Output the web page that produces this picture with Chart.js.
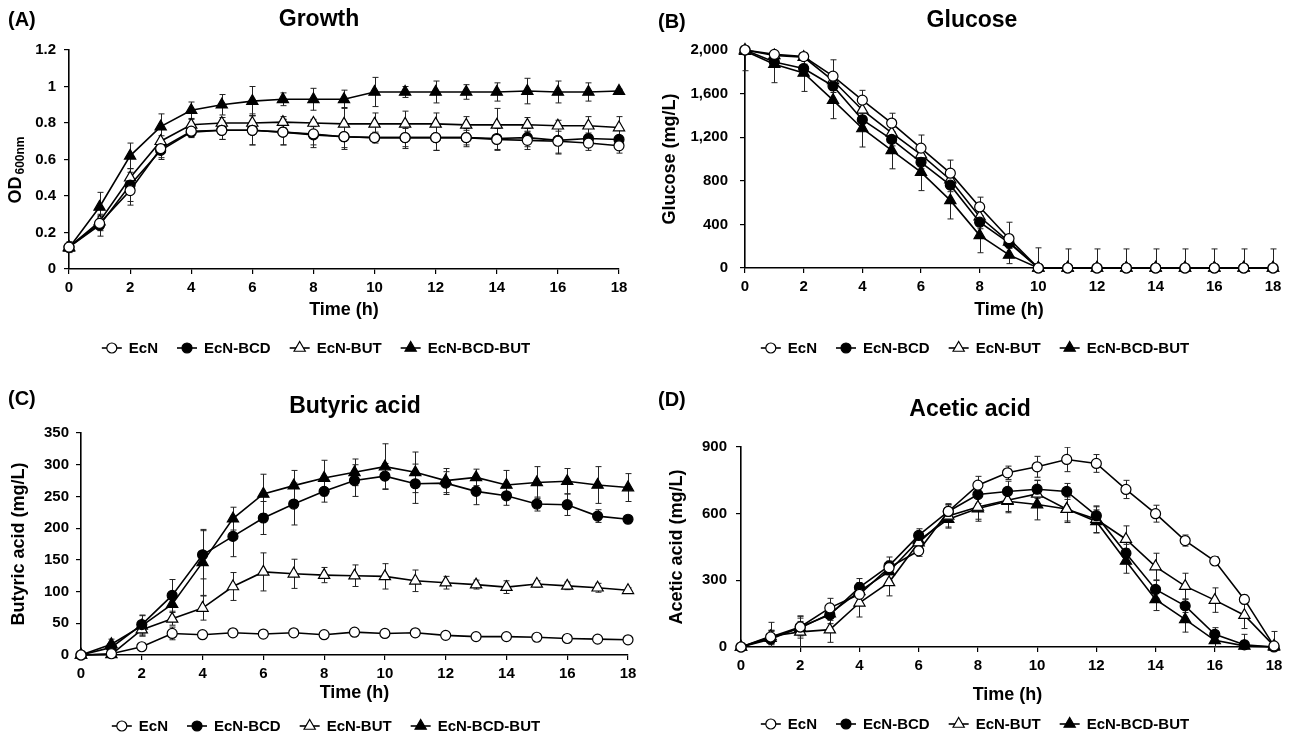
<!DOCTYPE html>
<html>
<head>
<meta charset="utf-8">
<script src="https://cdn.jsdelivr.net/npm/chart.js@4.4.1/dist/chart.umd.min.js"></script>
<style>
  html, body { margin: 0; padding: 0; background: #fff; }
  #wrap { position: relative; width: 1289px; height: 733px; }
  #wrap canvas { position: absolute; }
</style>
</head>
<body>
<div id="wrap">
  <canvas id="growthChart" width="645" height="366" style="left:0;top:0"></canvas>
  <canvas id="glucoseChart" width="644" height="366" style="left:645px;top:0"></canvas>
  <canvas id="butyricChart" width="645" height="367" style="left:0;top:366px"></canvas>
  <canvas id="aceticChart" width="644" height="367" style="left:645px;top:366px"></canvas>
</div>
<script>
const hours = [0, 1, 2, 3, 4, 5, 6, 7, 8, 9, 10, 11, 12, 13, 14, 15, 16, 17, 18];
const strains = ['EcN', 'EcN-BCD', 'EcN-BUT', 'EcN-BCD-BUT'];

// (A) Growth, OD600
const growthEcN    = [0.12, 0.25, 0.43, 0.66, 0.755, 0.76, 0.76, 0.75, 0.74, 0.725, 0.72, 0.72, 0.72, 0.72, 0.71, 0.705, 0.70, 0.69, 0.675];
const growthBCD    = [0.12, 0.24, 0.46, 0.65, 0.75, 0.76, 0.76, 0.75, 0.735, 0.725, 0.72, 0.72, 0.72, 0.72, 0.715, 0.72, 0.705, 0.715, 0.71];
const growthBUT    = [0.12, 0.26, 0.50, 0.70, 0.79, 0.80, 0.80, 0.805, 0.80, 0.795, 0.795, 0.795, 0.795, 0.79, 0.79, 0.79, 0.785, 0.785, 0.775];
const growthBCDBUT = [0.115, 0.34, 0.62, 0.78, 0.87, 0.90, 0.92, 0.93, 0.93, 0.93, 0.97, 0.97, 0.97, 0.97, 0.97, 0.975, 0.97, 0.97, 0.975];
const growthErrEcN    = [0.03, 0.04, 0.08, 0.05, 0.03, 0.05, 0.08, 0.07, 0.06, 0.06, 0.03, 0.05, 0.07, 0.04, 0.06, 0.05, 0.07, 0.04, 0.04];
const growthErrBCD    = [0.02, 0.06, 0.09, 0.05, 0.03, 0.05, 0.08, 0.07, 0.07, 0.07, 0.02, 0.06, 0.07, 0.05, 0.06, 0.05, 0.07, 0.03, 0.02];
const growthErrBUT    = [0.02, 0.03, 0.03, 0.03, 0.03, 0.03, 0.05, 0.03, 0.02, 0.09, 0.06, 0.07, 0.06, 0.045, 0.09, 0.04, 0.03, 0.05, 0.06];
const growthErrBCDBUT = [0.02, 0.08, 0.07, 0.07, 0.045, 0.056, 0.08, 0.035, 0.06, 0.05, 0.08, 0.03, 0.06, 0.04, 0.05, 0.07, 0.06, 0.05, 0.01];

// (B) Glucose, mg/L
const glucoseEcN    = [2000, 1960, 1940, 1760, 1540, 1330, 1100, 870, 560, 270, 0, 0, 0, 0, 0, 0, 0, 0, 0];
const glucoseBCD    = [2000, 1890, 1830, 1670, 1360, 1180, 970, 760, 420, 230, 0, 0, 0, 0, 0, 0, 0, 0, 0];
const glucoseBUT    = [2000, 1950, 1935, 1720, 1450, 1240, 1040, 810, 470, 240, 0, 0, 0, 0, 0, 0, 0, 0, 0];
const glucoseBCDBUT = [1990, 1870, 1790, 1540, 1280, 1080, 880, 620, 300, 120, 0, 0, 0, 0, 0, 0, 0, 0, 0];
const glucoseErrEcN    = [20, 20, 20, 150, 90, 90, 120, 120, 90, 150, 0, 0, 0, 0, 0, 0, 0, 0, 0];
const glucoseErrBCD    = [20, 40, 40, 40, 60, 60, 60, 60, 60, 50, 0, 0, 0, 0, 0, 0, 0, 0, 0];
const glucoseErrBUT    = [20, 30, 30, 40, 50, 50, 50, 50, 50, 50, 0, 0, 0, 0, 0, 0, 0, 0, 0];
const glucoseErrBCDBUT = [180, 170, 170, 170, 170, 170, 170, 170, 160, 80, 185, 175, 175, 175, 175, 175, 175, 175, 175];

// (C) Butyric acid, mg/L
const butyricEcN    = [0, 2, 13, 34, 32, 35, 33, 35, 32, 36, 34, 35, 31, 29, 29, 28, 26, 25, 24];
const butyricBCD    = [0, 12, 48, 94, 158, 187, 216, 238, 258, 275, 282, 270, 271, 258, 251, 238, 237, 219, 214];
const butyricBUT    = [0, 1, 40, 57, 74, 108, 131, 128, 126, 125, 124, 117, 114, 111, 107, 112, 109, 106, 102];
const butyricBCDBUT = [0, 17, 46, 80, 146, 215, 254, 267, 279, 288, 297, 288, 275, 280, 268, 272, 274, 268, 264];
const butyricErrEcN    = [2, 2, 3, 10, 4, 3, 3, 5, 3, 4, 4, 3, 3, 2, 2, 2, 2, 2, 2];
const butyricErrBCD    = [0, 8, 15, 25, 38, 32, 26, 33, 17, 25, 20, 31, 18, 21, 15, 11, 17, 10, 5];
const butyricErrBUT    = [0, 3, 10, 10, 19, 22, 30, 23, 12, 17, 20, 17, 10, 7, 10, 5, 6, 7, 4];
const butyricErrBCDBUT = [0, 8, 16, 20, 52, 18, 31, 24, 28, 21, 36, 32, 19, 13, 23, 25, 20, 29, 22];

// (D) Acetic acid, mg/L
const aceticEcN    = [0, 45, 90, 176, 237, 357, 433, 610, 728, 784, 811, 844, 826, 709, 600, 479, 387, 214, 5];
const aceticBCD    = [0, 35, 90, 145, 268, 365, 502, 610, 686, 700, 710, 700, 591, 422, 259, 185, 57, 10, 0];
const aceticBUT    = [0, 48, 68, 78, 199, 291, 470, 590, 630, 660, 689, 620, 575, 485, 362, 274, 211, 143, 5];
const aceticBCDBUT = [0, 40, 85, 150, 250, 340, 480, 575, 623, 656, 641, 621, 565, 387, 214, 124, 30, 5, 0];
const aceticErrEcN    = [5, 30, 40, 43, 40, 30, 25, 35, 40, 30, 47, 55, 40, 41, 38, 25, 20, 20, 10];
const aceticErrBCD    = [5, 40, 50, 40, 40, 40, 30, 30, 40, 46, 41, 36, 40, 40, 40, 30, 30, 47, 10];
const aceticErrBUT    = [5, 63, 70, 57, 64, 61, 30, 50, 55, 50, 60, 60, 60, 60, 60, 58, 55, 60, 65];
const aceticErrBCDBUT = [5, 30, 30, 30, 40, 40, 30, 40, 57, 52, 69, 54, 52, 55, 50, 57, 30, 25, 10];

const FONT = '"Liberation Sans", Arial, sans-serif';
Chart.defaults.font.family = FONT;
Chart.defaults.color = '#000';

// marker look per strain
const markers = [
  { pointStyle: 'circle', pointRadius: 5, pointBackgroundColor: '#fff' },
  { pointStyle: 'circle', pointRadius: 5, pointBackgroundColor: '#000' },
  { pointStyle: 'triangle', pointRadius: 6.5, pointBackgroundColor: '#fff' },
  { pointStyle: 'triangle', pointRadius: 6.5, pointBackgroundColor: '#000' },
];

function makeDatasets(series, errors) {
  return series.map((vals, i) => ({
    label: strains[i],
    data: hours.map((h, k) => ({ x: h, y: vals[k] })),
    errors: errors[i],
    borderColor: '#000',
    borderWidth: 1.6,
    pointBorderColor: '#000',
    pointBorderWidth: 1.2,
    pointHoverRadius: markers[i].pointRadius,
    tension: 0,
    clip: false,
    ...markers[i],
  }));
}

// error bars under the lines, titles and legend on top
const panelDeco = {
  id: 'panelDeco',
  beforeDatasetsDraw(chart) {
    const ctx = chart.ctx, a = chart.chartArea;
    const xs = chart.scales.x, ys = chart.scales.y;
    ctx.save();
    ctx.beginPath();
    ctx.rect(a.left - 10, a.top, a.right - a.left + 20, a.bottom - a.top);
    ctx.clip();
    ctx.strokeStyle = '#222';
    ctx.lineWidth = 1;
    chart.data.datasets.forEach(ds => {
      ds.data.forEach((pt, i) => {
        const e = ds.errors[i];
        if (!e) return;
        const px = Math.round(xs.getPixelForValue(pt.x)) + 0.5;
        const y1 = ys.getPixelForValue(pt.y + e);
        const y2 = ys.getPixelForValue(pt.y - e);
        ctx.beginPath();
        ctx.moveTo(px, y1); ctx.lineTo(px, y2);
        ctx.moveTo(px - 3, y1); ctx.lineTo(px + 3, y1);
        ctx.moveTo(px - 3, y2); ctx.lineTo(px + 3, y2);
        ctx.stroke();
      });
    });
    ctx.restore();
  },
  afterDraw(chart) {
    const o = chart.options.plugins.panelDeco;
    const ctx = chart.ctx;
    ctx.save();
    ctx.fillStyle = '#000';
    ctx.textBaseline = 'middle';

    ctx.textAlign = 'left';
    ctx.font = 'bold 20px ' + FONT;
    ctx.fillText(o.label, o.labelX, o.labelY);

    ctx.textAlign = 'center';
    ctx.font = 'bold 23px ' + FONT;
    ctx.fillText(o.title, o.titleX, o.titleY);

    // y title with subscript (panel A)
    if (o.yMain) {
      ctx.save();
      ctx.translate(o.yX, o.yY);
      ctx.rotate(-Math.PI / 2);
      ctx.textAlign = 'left';
      ctx.font = 'bold 18px ' + FONT;
      const w1 = ctx.measureText(o.yMain).width;
      ctx.font = 'bold 12px ' + FONT;
      const w2 = ctx.measureText(o.ySub).width;
      const x0 = -(w1 + 2 + w2) / 2;
      ctx.font = 'bold 18px ' + FONT;
      ctx.fillText(o.yMain, x0, 0);
      ctx.font = 'bold 12px ' + FONT;
      ctx.fillText(o.ySub, x0 + w1 + 2, 5);
      ctx.restore();
    }

    // legend: line with marker, then label
    ctx.font = 'bold 15px ' + FONT;
    ctx.textAlign = 'left';
    const lineW = 20, gapT = 7, gapItem = 19;
    const items = chart.data.datasets.map(ds => ({ ds, w: ctx.measureText(ds.label).width }));
    const total = items.reduce((s, it) => s + lineW + gapT + it.w, 0) + gapItem * (items.length - 1);
    let x = o.legendX - total / 2;
    const y = o.legendY;
    items.forEach(it => {
      ctx.strokeStyle = '#000';
      ctx.lineWidth = 1.6;
      ctx.beginPath();
      ctx.moveTo(x, y); ctx.lineTo(x + lineW, y);
      ctx.stroke();
      ctx.fillStyle = it.ds.pointBackgroundColor;
      ctx.lineWidth = 1.2;
      Chart.helpers.drawPoint(ctx, {
        pointStyle: it.ds.pointStyle, radius: it.ds.pointRadius, borderWidth: 1.2, rotation: 0
      }, x + lineW / 2, y);
      ctx.fillStyle = '#000';
      ctx.fillText(it.ds.label, x + lineW + gapT, y + 1);
      x += lineW + gapT + it.w + gapItem;
    });
    ctx.restore();
  }
};

function makeConfig(p, datasets) {
  return {
    type: 'line',
    data: { datasets },
    options: {
      responsive: false,
      animation: false,
      devicePixelRatio: 1,
      layout: {
        padding: { left: 0, right: p.w - p.right, top: p.top, bottom: p.h - p.bottom - p.xH }
      },
      plugins: {
        legend: { display: false },
        title: { display: false },
        tooltip: { enabled: false },
        panelDeco: p.deco,
      },
      scales: {
        x: {
          type: 'linear',
          min: 0, max: 18,
          afterFit: s => { s.height = p.xH; },
          ticks: { stepSize: 2, autoSkip: false, padding: 5, font: { size: 15, weight: 'bold' }, color: '#000' },
          grid: { drawOnChartArea: false, drawTicks: true, tickLength: 5, color: '#000', lineWidth: 1.2 },
          border: { color: '#000', width: 1.6 },
          title: { display: true, text: 'Time (h)', font: { size: 18, weight: 'bold' }, color: '#000', padding: { top: 0, bottom: 0 } },
        },
        y: {
          min: p.yMin, max: p.yMax,
          afterFit: s => { s.width = p.left; },
          ticks: {
            stepSize: p.yStep, padding: p.yPad, font: { size: 15, weight: 'bold' }, color: '#000',
            callback: v => v.toLocaleString('en-US'),
          },
          grid: { drawOnChartArea: false, drawTicks: true, tickLength: 5, color: '#000', lineWidth: 1.2 },
          border: { color: '#000', width: 1.6 },
          title: {
            display: !!p.yTitle, text: p.yTitle, font: { size: 18, weight: 'bold' }, color: '#000',
            padding: { top: p.yTitleX - 10.8, bottom: 0 }
          },
        },
      },
    },
    plugins: [panelDeco],
  };
}

new Chart(document.getElementById('growthChart'), makeConfig({
  w: 645, h: 366, left: 69, right: 619, top: 50, bottom: 269, xH: 52,
  yMin: 0, yMax: 1.2, yStep: 0.2, yPad: 8, yTitle: '',
  deco: { label: '(A)', labelX: 8, labelY: 20, title: 'Growth', titleX: 319, titleY: 20,
          yMain: 'OD', ySub: '600nm', yX: 16, yY: 170, legendX: 316, legendY: 348 },
}, makeDatasets([growthEcN, growthBCD, growthBUT, growthBCDBUT],
                [growthErrEcN, growthErrBCD, growthErrBUT, growthErrBCDBUT])));

new Chart(document.getElementById('glucoseChart'), makeConfig({
  w: 644, h: 366, left: 100, right: 628, top: 50, bottom: 268, xH: 53,
  yMin: 0, yMax: 2000, yStep: 400, yPad: 12, yTitle: 'Glucose (mg/L)', yTitleX: 25,
  deco: { label: '(B)', labelX: 13, labelY: 22, title: 'Glucose', titleX: 327, titleY: 21,
          legendX: 330, legendY: 348 },
}, makeDatasets([glucoseEcN, glucoseBCD, glucoseBUT, glucoseBCDBUT],
                [glucoseErrEcN, glucoseErrBCD, glucoseErrBUT, glucoseErrBCDBUT])));

new Chart(document.getElementById('butyricChart'), makeConfig({
  w: 645, h: 367, left: 81, right: 628, top: 67, bottom: 289, xH: 49,
  yMin: 0, yMax: 350, yStep: 50, yPad: 7, yTitle: 'Butyric acid (mg/L)', yTitleX: 19,
  deco: { label: '(C)', labelX: 8, labelY: 33, title: 'Butyric acid', titleX: 355, titleY: 41,
          legendX: 326, legendY: 360 },
}, makeDatasets([butyricEcN, butyricBCD, butyricBUT, butyricBCDBUT],
                [butyricErrEcN, butyricErrBCD, butyricErrBUT, butyricErrBCDBUT])));

new Chart(document.getElementById('aceticChart'), makeConfig({
  w: 644, h: 367, left: 96, right: 629, top: 81, bottom: 281, xH: 59,
  yMin: 0, yMax: 900, yStep: 300, yPad: 9, yTitle: 'Acetic acid (mg/L)', yTitleX: 32,
  deco: { label: '(D)', labelX: 13, labelY: 34, title: 'Acetic acid', titleX: 325, titleY: 44,
          legendX: 330, legendY: 358 },
}, makeDatasets([aceticEcN, aceticBCD, aceticBUT, aceticBCDBUT],
                [aceticErrEcN, aceticErrBCD, aceticErrBUT, aceticErrBCDBUT])));
</script>
</body>
</html>
